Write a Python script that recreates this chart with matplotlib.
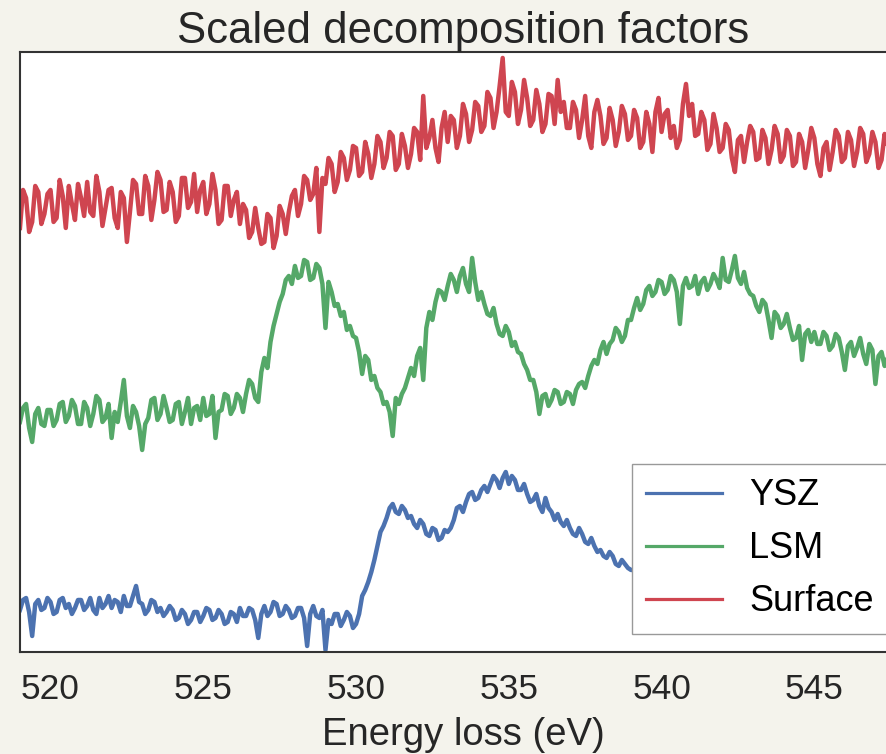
import numpy as np
import matplotlib
matplotlib.use("Agg")
import matplotlib.pyplot as plt

# energy grid of the spectra (eV), 0.1 eV steps
energy = np.round(np.arange(519.0, 548.001, 0.1), 1)

# scaled factor spectra, offset so they stack (one row per eV)
ysz = [
    0.21, 0.26, 0.27, 0.20, 0.08, 0.24, 0.26, 0.21, 0.22, 0.27,
    0.25, 0.19, 0.20, 0.26, 0.27, 0.22, 0.24, 0.19, 0.22, 0.26,
    0.26, 0.21, 0.23, 0.27, 0.21, 0.19, 0.27, 0.22, 0.24, 0.28,
    0.22, 0.26, 0.25, 0.20, 0.28, 0.23, 0.23, 0.28, 0.33, 0.25,
    0.24, 0.19, 0.21, 0.26, 0.25, 0.20, 0.22, 0.18, 0.20, 0.23,
    0.21, 0.16, 0.17, 0.21, 0.19, 0.14, 0.16, 0.20, 0.20, 0.15,
    0.18, 0.22, 0.21, 0.16, 0.17, 0.21, 0.19, 0.14, 0.15, 0.20,
    0.19, 0.15, 0.22, 0.18, 0.18, 0.22, 0.21, 0.16, 0.07, 0.19,
    0.23, 0.18, 0.20, 0.25, 0.24, 0.18, 0.19, 0.23, 0.21, 0.17,
    0.18, 0.22, 0.22, 0.17, 0.03, 0.19, 0.23, 0.18, 0.17, 0.21,
    0.01, 0.16, 0.14, 0.19, 0.19, 0.13, 0.16, 0.20, 0.18, 0.12,
    0.14, 0.19, 0.28, 0.31, 0.35, 0.40, 0.46, 0.53, 0.60, 0.63,
    0.67, 0.72, 0.74, 0.70, 0.69, 0.73, 0.71, 0.67, 0.68, 0.64,
    0.62, 0.66, 0.64, 0.59, 0.58, 0.62, 0.61, 0.56, 0.57, 0.61,
    0.60, 0.62, 0.66, 0.72, 0.73, 0.70, 0.75, 0.79, 0.80, 0.76,
    0.77, 0.81, 0.83, 0.80, 0.84, 0.88, 0.86, 0.82, 0.87, 0.90,
    0.84, 0.88, 0.86, 0.81, 0.81, 0.84, 0.79, 0.75, 0.76, 0.79,
    0.73, 0.70, 0.77, 0.72, 0.70, 0.66, 0.69, 0.65, 0.63, 0.66,
    0.62, 0.59, 0.58, 0.62, 0.59, 0.55, 0.54, 0.57, 0.53, 0.50,
    0.51, 0.48, 0.47, 0.50, 0.48, 0.44, 0.43, 0.46, 0.44, 0.42,
    0.41, 0.41, 0.40, 0.39, 0.39, 0.38, 0.38, 0.37, 0.37, 0.36,
    0.36, 0.36, 0.35, 0.35, 0.35, 0.34, 0.34, 0.34, 0.33, 0.33,
    0.33, 0.33, 0.32, 0.32, 0.32, 0.32, 0.31, 0.31, 0.31, 0.31,
    0.30, 0.30, 0.30, 0.30, 0.29, 0.29, 0.29, 0.29, 0.29, 0.29,
    0.28, 0.28, 0.28, 0.28, 0.28, 0.28, 0.27, 0.27, 0.27, 0.27,
    0.27, 0.27, 0.27, 0.27, 0.26, 0.26, 0.26, 0.26, 0.26, 0.26,
    0.26, 0.26, 0.26, 0.26, 0.25, 0.25, 0.25, 0.25, 0.25, 0.25,
    0.25, 0.25, 0.25, 0.25, 0.25, 0.25, 0.24, 0.24, 0.24, 0.24,
    0.24, 0.24, 0.24, 0.24, 0.24, 0.24, 0.24, 0.24, 0.24, 0.24,
    0.24,
]
lsm = [
    1.15, 1.22, 1.24, 1.12, 1.05, 1.19, 1.22, 1.14, 1.13, 1.21,
    1.21, 1.13, 1.16, 1.24, 1.25, 1.15, 1.18, 1.26, 1.23, 1.14,
    1.14, 1.25, 1.22, 1.13, 1.19, 1.28, 1.26, 1.15, 1.17, 1.24,
    1.07, 1.20, 1.15, 1.25, 1.36, 1.18, 1.12, 1.23, 1.20, 1.13,
    1.01, 1.14, 1.17, 1.26, 1.27, 1.16, 1.19, 1.28, 1.22, 1.15,
    1.16, 1.24, 1.25, 1.14, 1.20, 1.27, 1.14, 1.22, 1.23, 1.16,
    1.27, 1.18, 1.19, 1.28, 1.07, 1.20, 1.21, 1.29, 1.28, 1.19,
    1.22, 1.29, 1.27, 1.20, 1.29, 1.36, 1.34, 1.27, 1.25, 1.40,
    1.47, 1.42, 1.55, 1.63, 1.69, 1.75, 1.79, 1.86, 1.88, 1.84,
    1.93, 1.87, 1.88, 1.96, 1.95, 1.86, 1.87, 1.94, 1.92, 1.84,
    1.62, 1.85, 1.80, 1.73, 1.74, 1.68, 1.70, 1.61, 1.63, 1.58,
    1.57, 1.50, 1.39, 1.48, 1.46, 1.36, 1.38, 1.32, 1.30, 1.24,
    1.25, 1.20, 1.08, 1.27, 1.24, 1.29, 1.32, 1.37, 1.42, 1.38,
    1.48, 1.52, 1.36, 1.62, 1.70, 1.66, 1.75, 1.81, 1.80, 1.76,
    1.83, 1.89, 1.86, 1.80, 1.88, 1.92, 1.84, 1.80, 1.97, 1.85,
    1.76, 1.80, 1.74, 1.69, 1.68, 1.72, 1.64, 1.59, 1.58, 1.63,
    1.60, 1.53, 1.55, 1.50, 1.49, 1.44, 1.41, 1.36, 1.36, 1.30,
    1.19, 1.28, 1.29, 1.23, 1.26, 1.31, 1.30, 1.24, 1.25, 1.30,
    1.29, 1.24, 1.31, 1.34, 1.35, 1.32, 1.38, 1.43, 1.46, 1.44,
    1.51, 1.55, 1.49, 1.54, 1.56, 1.62, 1.60, 1.55, 1.58, 1.66,
    1.66, 1.72, 1.77, 1.71, 1.74, 1.81, 1.83, 1.78, 1.80, 1.86,
    1.85, 1.79, 1.81, 1.88, 1.86, 1.80, 1.64, 1.83, 1.87, 1.82,
    1.83, 1.88, 1.79, 1.85, 1.87, 1.81, 1.84, 1.89, 1.86, 1.82,
    1.97, 1.86, 1.85, 1.91, 1.98, 1.87, 1.84, 1.90, 1.82, 1.79,
    1.78, 1.73, 1.70, 1.76, 1.74, 1.66, 1.57, 1.70, 1.68, 1.62,
    1.64, 1.69, 1.62, 1.56, 1.57, 1.63, 1.46, 1.59, 1.61, 1.55,
    1.60, 1.54, 1.54, 1.60, 1.58, 1.51, 1.53, 1.59, 1.57, 1.50,
    1.41, 1.53, 1.55, 1.48, 1.52, 1.57, 1.49, 1.44, 1.54, 1.51,
    1.34, 1.48, 1.50, 1.43, 1.47, 1.52, 1.44, 1.40, 1.49, 1.46,
    1.47,
]
surface = [
    2.12, 2.31, 2.27, 2.10, 2.15, 2.33, 2.30, 2.14, 2.19, 2.29,
    2.31, 2.15, 2.17, 2.36, 2.28, 2.12, 2.33, 2.24, 2.16, 2.34,
    2.27, 2.18, 2.35, 2.20, 2.18, 2.38, 2.30, 2.13, 2.22, 2.31,
    2.32, 2.17, 2.12, 2.30, 2.27, 2.05, 2.20, 2.36, 2.34, 2.19,
    2.19, 2.38, 2.33, 2.16, 2.26, 2.40, 2.36, 2.20, 2.21, 2.35,
    2.30, 2.15, 2.18, 2.37, 2.37, 2.22, 2.25, 2.39, 2.20, 2.31,
    2.35, 2.19, 2.24, 2.39, 2.31, 2.14, 2.16, 2.33, 2.33, 2.18,
    2.26, 2.30, 2.14, 2.24, 2.21, 2.07, 2.10, 2.22, 2.12, 2.04,
    2.05, 2.19, 2.17, 2.02, 2.08, 2.23, 2.19, 2.09, 2.20, 2.28,
    2.31, 2.18, 2.24, 2.38, 2.36, 2.26, 2.29, 2.42, 2.10, 2.37,
    2.34, 2.47, 2.44, 2.30, 2.35, 2.50, 2.47, 2.36, 2.41, 2.53,
    2.52, 2.38, 2.40, 2.55, 2.49, 2.37, 2.44, 2.58, 2.55, 2.42,
    2.47, 2.60, 2.58, 2.41, 2.44, 2.59, 2.53, 2.42, 2.49, 2.62,
    2.60, 2.46, 2.78, 2.52, 2.57, 2.66, 2.52, 2.45, 2.62, 2.70,
    2.55, 2.68, 2.66, 2.52, 2.58, 2.74, 2.69, 2.55, 2.61, 2.75,
    2.73, 2.60, 2.63, 2.80, 2.77, 2.62, 2.70, 2.83, 2.97, 2.70,
    2.68, 2.85, 2.80, 2.64, 2.71, 2.86, 2.77, 2.63, 2.66, 2.81,
    2.74, 2.60, 2.64, 2.79, 2.78, 2.64, 2.86, 2.70, 2.75, 2.62,
    2.62, 2.75, 2.71, 2.57, 2.66, 2.78, 2.58, 2.52, 2.70, 2.76,
    2.68, 2.54, 2.57, 2.72, 2.66, 2.53, 2.60, 2.73, 2.69, 2.56,
    2.58, 2.71, 2.67, 2.52, 2.55, 2.70, 2.64, 2.50, 2.70, 2.77,
    2.60, 2.69, 2.71, 2.57, 2.63, 2.52, 2.56, 2.74, 2.84, 2.68,
    2.74, 2.58, 2.59, 2.70, 2.66, 2.51, 2.54, 2.69, 2.62, 2.50,
    2.52, 2.64, 2.61, 2.47, 2.40, 2.56, 2.58, 2.45, 2.55, 2.63,
    2.60, 2.46, 2.47, 2.61, 2.57, 2.44, 2.51, 2.63, 2.59, 2.45,
    2.48, 2.61, 2.58, 2.43, 2.45, 2.59, 2.55, 2.42, 2.51, 2.62,
    2.57, 2.44, 2.38, 2.52, 2.55, 2.41, 2.50, 2.61, 2.58, 2.45,
    2.47, 2.60, 2.56, 2.43, 2.50, 2.62, 2.59, 2.45, 2.49, 2.60,
    2.55, 2.42, 2.46, 2.59, 2.53, 2.40, 2.58, 2.50, 2.48, 2.57,
    2.52,
]

labels = ["YSZ", "LSM", "Surface"]
colors = ["#4c72b0", "#55a868", "#cf4550"]
xticks = [520, 525, 530, 535, 540, 545]

plt.rcParams["font.family"] = ["Liberation Sans", "DejaVu Sans"]
text_color = "#262626"

fig = plt.figure(figsize=(8.87, 7.54), dpi=100, facecolor="#f4f3ec")
ax = fig.add_axes([0.0225, 0.1353, 0.9989, 0.7958])

for vals, lab, col in zip([ysz, lsm, surface], labels, colors):
    ax.plot(energy, vals, color=col, lw=3.2, label=lab)

ax.set_xlim(519, 548)
ax.set_ylim(0, 3)
ax.set_yticks([])
ax.set_xticks(xticks)
ax.tick_params(axis="x", length=0, pad=15, labelsize=25.5, labelcolor=text_color)
for sp in ax.spines.values():
    sp.set_color("#333333")
    sp.set_linewidth(1.5)

ax.set_title("Scaled decomposition factors", fontsize=31.5, pad=2, color=text_color)
ax.set_xlabel("Energy loss (eV)", fontsize=27.5, labelpad=8, color=text_color)

leg = ax.legend(loc="lower right", fontsize=26, frameon=True, fancybox=False,
                handlelength=2.1, handletextpad=0.75, labelspacing=0.5,
                borderpad=0.4)
leg.get_frame().set_edgecolor("#999999")
leg.get_frame().set_linewidth(1.0)
leg.get_frame().set_alpha(1.0)
for line in leg.get_lines():
    line.set_linewidth(2.3)

fig.savefig("out.png", dpi=100, facecolor=fig.get_facecolor())
